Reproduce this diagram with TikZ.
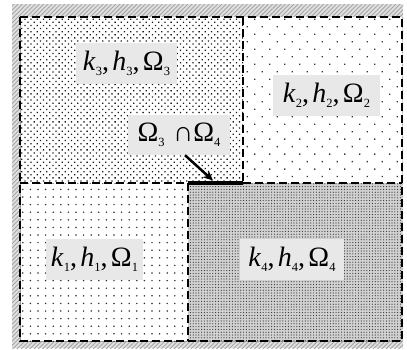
\documentclass[tikz,border=0pt]{standalone}
\usepackage{fontspec}
\setmainfont{Liberation Serif}
\usetikzlibrary{patterns.meta,arrows.meta}
\newcommand{\sbx}[1]{\raisebox{-0.38ex}{\fontsize{12.5}{12.5}\selectfont #1}}
\newcommand{\trip}[1]{\textit{k}\sbx{#1},\hspace{0.12em}\textit{h}\sbx{#1},\hspace{0.12em}Ω\sbx{#1}}
\begin{document}
\begin{tikzpicture}[x=1pt,y=-1pt,
  lbl/.style={fill=black!9,inner xsep=4pt,inner ysep=0pt,minimum height=41pt,font=\fontsize{28}{28}\selectfont},
  bord/.style={line width=1.5pt,dash pattern=on 8pt off 4pt}]
\useasboundingbox (0,0) rectangle (407,349);
% hatched frame
\fill[black!12] (12,4) rectangle (403,348);
\fill[pattern={Lines[angle=45,distance=3pt,line width=0.9pt]},pattern color=black!35] (12,4) rectangle (403,348);
\fill[white] (20,17) rectangle (402,341);
\draw[black!40,line width=0.8pt] (20,17) -- (20,341) -- (402,341);
% regions
\fill[pattern={Dots[distance=4.4pt,angle=45,radius=0.9pt]},pattern color=black!90] (20,17) rectangle (243,183);
\fill[pattern={Dots[distance=10.6pt,angle=45,radius=0.9pt]},pattern color=black!80] (243,17) rectangle (402,183);
\fill[pattern={Dots[distance=7.6pt,radius=0.85pt]},pattern color=black!80] (20,183) rectangle (188,341);
\fill[black!18] (188,183) rectangle (402,341);
\fill[pattern={Dots[distance=2.8pt,radius=0.6pt]},pattern color=black!80] (188,183) rectangle (402,341);
% borders
\draw[bord] (20,17) rectangle (402,341);
\draw[bord] (20,183) -- (188,183);
\draw[bord] (243,183) -- (402,183);
\draw[bord] (243,17) -- (243,183);
\draw[bord] (188,183) -- (188,341);
\coordinate (a) at (188,183);
\coordinate (b) at (243,183);
\draw[line width=4.5pt] (a) -- (b);
\coordinate (tgt) at (213,180.5);
% labels
\node[lbl,minimum width=101pt] (n3) at (126.5,63) {\trip{3}};
\node[lbl,minimum width=107pt] (n2) at (326.5,95) {\trip{2}};
\node[lbl,minimum width=97pt] (n1) at (94.5,259.5) {\trip{1}};
\node[lbl,minimum width=104pt] (n4) at (292,259) {\trip{4}};
\node[lbl,minimum width=102pt,minimum height=40pt] (ni) at (179,135) {Ω\sbx{3}\hspace{0.3em}∩Ω\sbx{4}};
\draw[line width=2.5pt,-{Stealth[length=10pt,width=9pt]}] ([xshift=6pt]ni.south) -- (tgt);
\end{tikzpicture}
\end{document}
